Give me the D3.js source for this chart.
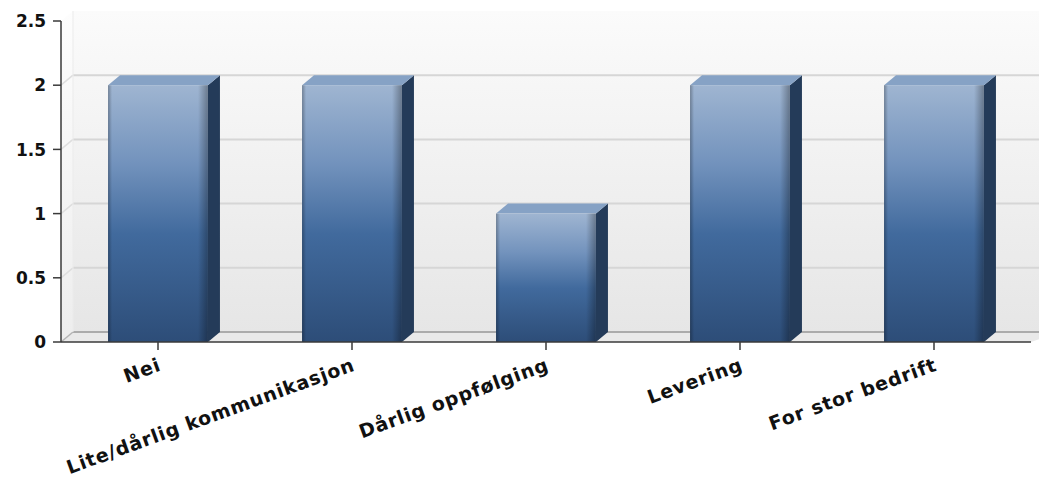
<!DOCTYPE html>
<html>
<head>
<meta charset="utf-8">
<script src="https://cdn.jsdelivr.net/npm/d3@7"></script>
<style>
  html, body { margin: 0; padding: 0; background: #ffffff; }
  svg { display: block; }
  .lbl { font-family: "DejaVu Sans", Verdana, sans-serif; font-weight: bold; fill: #111; }
</style>
</head>
<body>
<svg id="chart" width="1039" height="481"></svg>
<script>
// Chart data
const categories = ["Nei", "Lite/dårlig kommunikasjon", "Dårlig oppfølging", "Levering", "For stor bedrift"];
const values = [2, 2, 1, 2, 2];
const yTicks = [0, 0.5, 1, 1.5, 2, 2.5];
const yTickLabels = ["0", "0.5", "1", "1.5", "2", "2.5"];

const W = 1039, H = 481;
const plotLeft = 61, plotRight = 1031, plotTop = 21, plotBottom = 342;
const depthX = 12, depthY = 10;   // 3D wall depth

const svg = d3.select("#chart");
const defs = svg.append("defs");

const x = d3.scaleBand()
  .domain(categories)
  .range([plotLeft, plotRight])
  .paddingInner(0.485)
  .paddingOuter(0.2425);

const y = d3.scaleLinear()
  .domain([0, 2.5])
  .range([plotBottom, plotTop]);

// Gradients
const wallGrad = defs.append("linearGradient").attr("id", "wallGrad")
  .attr("x1", 0).attr("y1", 0).attr("x2", 0).attr("y2", 1);
wallGrad.append("stop").attr("offset", "0%").attr("stop-color", "#fbfbfb");
wallGrad.append("stop").attr("offset", "100%").attr("stop-color", "#e6e6e6");

const sideWallGrad = defs.append("linearGradient").attr("id", "sideWallGrad")
  .attr("x1", 0).attr("y1", 0).attr("x2", 0).attr("y2", 1);
sideWallGrad.append("stop").attr("offset", "0%").attr("stop-color", "#fdfdfd");
sideWallGrad.append("stop").attr("offset", "100%").attr("stop-color", "#ededed");

const frontGrad = defs.append("linearGradient").attr("id", "frontGrad")
  .attr("x1", 0).attr("y1", 0).attr("x2", 0).attr("y2", 1);
frontGrad.append("stop").attr("offset", "0%").attr("stop-color", "#9fb5d1");
frontGrad.append("stop").attr("offset", "30%").attr("stop-color", "#7393bd");
frontGrad.append("stop").attr("offset", "58%").attr("stop-color", "#416a9d");
frontGrad.append("stop").attr("offset", "100%").attr("stop-color", "#2d4d78");

const edgeGrad = defs.append("linearGradient").attr("id", "edgeGrad")
  .attr("x1", 0).attr("y1", 0).attr("x2", 1).attr("y2", 0);
edgeGrad.append("stop").attr("offset", "0%").attr("stop-color", "#000").attr("stop-opacity", 0.28);
edgeGrad.append("stop").attr("offset", "4%").attr("stop-color", "#000").attr("stop-opacity", 0.0);
edgeGrad.append("stop").attr("offset", "90%").attr("stop-color", "#000").attr("stop-opacity", 0.0);
edgeGrad.append("stop").attr("offset", "100%").attr("stop-color", "#000").attr("stop-opacity", 0.32);

const plot = svg.append("g");

// Back wall
plot.append("rect")
  .attr("x", plotLeft + depthX).attr("y", plotTop - depthY)
  .attr("width", W - (plotLeft + depthX) + 20).attr("height", plotBottom - plotTop)
  .attr("fill", "url(#wallGrad)");

// Left wall
plot.append("path")
  .attr("d", `M${plotLeft},${plotBottom} L${plotLeft + depthX},${plotBottom - depthY} L${plotLeft + depthX},${plotTop - depthY} L${plotLeft},${plotTop} Z`)
  .attr("fill", "url(#sideWallGrad)");

// Floor
plot.append("path")
  .attr("d", `M${plotLeft},${plotBottom} L${plotLeft + depthX},${plotBottom - depthY} L${W + 20},${plotBottom - depthY} L${plotRight},${plotBottom} Z`)
  .attr("fill", "#e9e9e9");

// Gridlines on back wall and left wall
const gridVals = yTicks.filter(v => v > 0 && v < 2.5);
plot.selectAll("line.grid")
  .data(gridVals).enter().append("line")
  .attr("class", "grid")
  .attr("x1", plotLeft + depthX).attr("x2", W + 20)
  .attr("y1", d => y(d) - depthY).attr("y2", d => y(d) - depthY)
  .attr("stroke", "#d6d6d6").attr("stroke-width", 2);
plot.selectAll("line.gridSide")
  .data(gridVals).enter().append("line")
  .attr("class", "gridSide")
  .attr("x1", plotLeft).attr("x2", plotLeft + depthX)
  .attr("y1", d => y(d)).attr("y2", d => y(d) - depthY)
  .attr("stroke", "#dedede").attr("stroke-width", 1.5);

// Floor back edge
plot.append("line")
  .attr("x1", plotLeft + depthX).attr("x2", W + 20)
  .attr("y1", plotBottom - depthY).attr("y2", plotBottom - depthY)
  .attr("stroke", "#ababab").attr("stroke-width", 2);
plot.append("line")
  .attr("x1", plotLeft).attr("x2", plotLeft + depthX)
  .attr("y1", plotBottom).attr("y2", plotBottom - depthY)
  .attr("stroke", "#b4b4b4").attr("stroke-width", 1.5);
plot.append("line")
  .attr("x1", plotLeft + depthX).attr("x2", plotLeft + depthX)
  .attr("y1", plotTop - depthY).attr("y2", plotBottom - depthY)
  .attr("stroke", "#ebebeb").attr("stroke-width", 1);

// Bars
const bars = plot.selectAll("g.bar")
  .data(categories.map((c, i) => ({ c, v: values[i] })))
  .enter().append("g").attr("class", "bar");

// side face
bars.append("path")
  .attr("d", d => {
    const x1 = x(d.c) + x.bandwidth();
    const yt = y(d.v), yb = y(0);
    return `M${x1},${yt} L${x1 + depthX},${yt - depthY} L${x1 + depthX},${yb - depthY} L${x1},${yb} Z`;
  })
  .attr("fill", "#243b59");

// top face
bars.append("path")
  .attr("d", d => {
    const x0 = x(d.c), x1 = x0 + x.bandwidth();
    const yt = y(d.v);
    return `M${x0},${yt} L${x0 + depthX},${yt - depthY} L${x1 + depthX},${yt - depthY} L${x1},${yt} Z`;
  })
  .attr("fill", "#86a2c5");

// front face
bars.append("rect")
  .attr("x", d => x(d.c))
  .attr("y", d => y(d.v))
  .attr("width", x.bandwidth())
  .attr("height", d => y(0) - y(d.v))
  .attr("fill", "url(#frontGrad)");
bars.append("rect")
  .attr("x", d => x(d.c))
  .attr("y", d => y(d.v))
  .attr("width", x.bandwidth())
  .attr("height", d => y(0) - y(d.v))
  .attr("fill", "url(#edgeGrad)");

// Axes
const axisColor = "#3a3a3a";
const yAxis = svg.append("g");
yAxis.append("line")
  .attr("x1", plotLeft).attr("x2", plotLeft)
  .attr("y1", plotTop).attr("y2", plotBottom)
  .attr("stroke", axisColor).attr("stroke-width", 1.5);
yAxis.selectAll("line.tick")
  .data(yTicks).enter().append("line")
  .attr("class", "tick")
  .attr("x1", plotLeft - 8).attr("x2", plotLeft)
  .attr("y1", d => y(d)).attr("y2", d => y(d))
  .attr("stroke", axisColor).attr("stroke-width", 1.5);
yAxis.selectAll("text")
  .data(yTicks).enter().append("text")
  .attr("class", "lbl")
  .attr("x", 46)
  .attr("y", d => y(d))
  .attr("dy", "0.36em")
  .attr("text-anchor", "end")
  .style("font-size", "17px")
  .text((d, i) => yTickLabels[i]);

const xAxis = svg.append("g");
xAxis.append("line")
  .attr("x1", plotLeft).attr("x2", plotRight)
  .attr("y1", plotBottom).attr("y2", plotBottom)
  .attr("stroke", axisColor).attr("stroke-width", 1.5);
xAxis.selectAll("line.tick")
  .data(categories).enter().append("line")
  .attr("class", "tick")
  .attr("x1", d => x(d) + x.bandwidth() / 2)
  .attr("x2", d => x(d) + x.bandwidth() / 2)
  .attr("y1", plotBottom).attr("y2", plotBottom + 8)
  .attr("stroke", axisColor).attr("stroke-width", 1.5);
xAxis.selectAll("text")
  .data(categories).enter().append("text")
  .attr("class", "lbl")
  .attr("text-anchor", "end")
  .style("font-size", "19px")
  .style("letter-spacing", "0.8px")
  .attr("transform", d => `translate(${x(d) + x.bandwidth() / 2 + 4},${plotBottom + 28}) rotate(-20)`)
  .text(d => d);
</script>
</body>
</html>
